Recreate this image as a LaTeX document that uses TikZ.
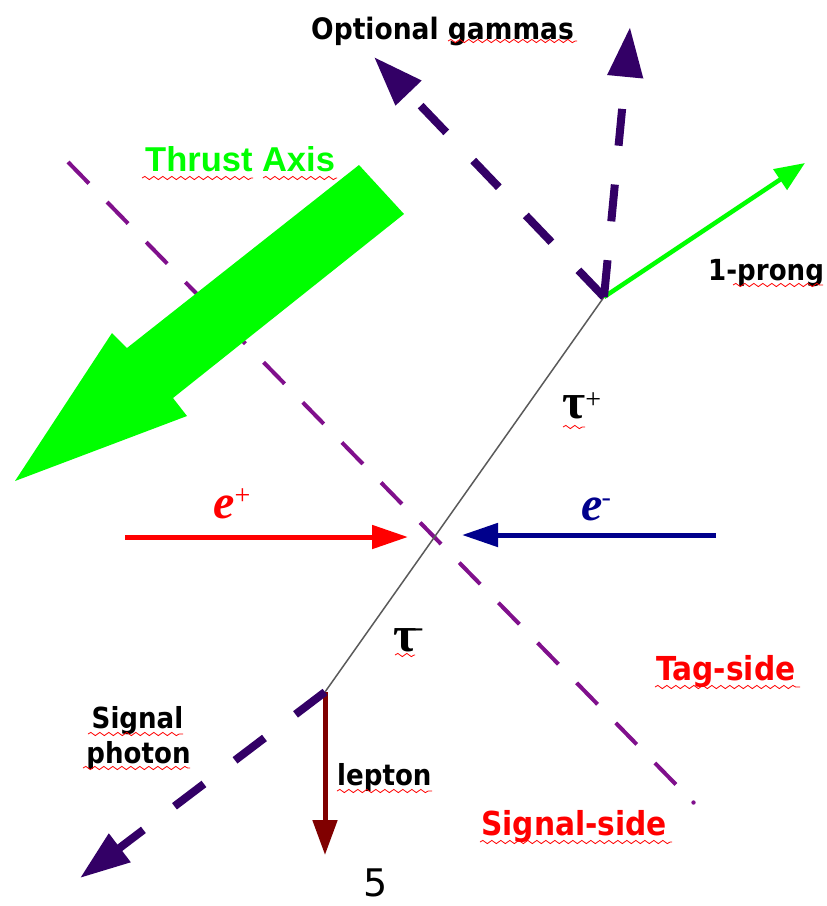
\documentclass[tikz,border=0pt]{standalone}
\usepackage{fontspec}
\setmainfont{DejaVu Sans}
\newfontfamily\lblf{DejaVu Sans}[FakeStretch=0.9]
\newfontfamily\arialf{Liberation Sans}
\newfontfamily\timesf{Liberation Serif}
\usetikzlibrary{arrows.meta,decorations.pathmorphing}
\definecolor{gam}{RGB}{51,0,102}
\definecolor{thr}{RGB}{128,16,140}
\definecolor{grn}{RGB}{0,255,0}
\definecolor{navyb}{RGB}{0,0,140}
\definecolor{maroonb}{RGB}{128,0,0}
\definecolor{taugray}{RGB}{90,90,90}
\tikzset{
  lbl/.style={font=\lblf\bfseries\fontsize{29}{34}\selectfont, inner sep=0pt, anchor=base west},
  redlbl/.style={lbl, font=\lblf\bfseries\fontsize{33}{38}\selectfont, text=red},
  greek/.style={inner sep=0pt, anchor=base west, font=\timesf\bfseries\fontsize{50}{54}\selectfont},
  elec/.style={inner sep=0pt, anchor=base west, font=\timesf\bfseries\itshape\fontsize{48}{52}\selectfont},
  wavy/.style={draw=red, line width=0.8pt, decorate, decoration={snake, amplitude=1.6pt, segment length=9pt}},
  gamma/.style={draw=gam, line width=8pt, dash pattern=on 37pt off 39pt, -{Triangle[length=50pt,width=34pt]}},
  beam/.style={line width=5pt, -{Triangle[length=36pt,width=23pt]}},
  thrustline/.style={draw=thr, line width=4pt, dash pattern=on 30pt off 26pt},
}
\newcommand\supsm[2]{\raisebox{#1}{\upshape\mdseries\fontsize{28}{30}\selectfont #2}}
\begin{document}
\begin{tikzpicture}[x=1pt,y=-1pt]
\useasboundingbox (0,0) rectangle (827,906);

% key points
\coordinate (tp) at (604,297);
\coordinate (tm) at (325,692);
\coordinate (g1) at (374,57);
\coordinate (g2) at (630,27);
\coordinate (pr) at (805,163);
\coordinate (sp) at (80,878);
\coordinate (lp) at (325,855);
\coordinate (epS) at (125,537);
\coordinate (epT) at (408,537);
\coordinate (emS) at (716,535);
\coordinate (emT) at (462,535);
\coordinate (th1) at (68,162);
\coordinate (th2) at (693.5,802.5);

% thrust-perpendicular dashed line
\draw[thrustline] (th1) -- (th2);
\fill[thr] (th2) circle (2.2pt);

% big thrust arrow
\fill[grn] (359,165) -- (404,214) -- (173,398) -- (187,416) -- (15,481) -- (112,333) -- (127,348) -- cycle;

% tau line
\draw[taugray, line width=1.5pt] (tm) -- (tp);

% beams
\draw[beam, red] (epS) -- (epT);
\draw[beam, navyb] (emS) -- (emT);

% decay products
\draw[grn, line width=4.5pt, -{Triangle[length=30pt,width=24pt]}] (tp) -- (pr);
\draw[maroonb, line width=5pt, -{Triangle[length=35pt,width=24pt]}] (tm) -- (lp);
\draw[gamma] (tp) -- (g1);
\draw[gamma] (tp) -- (g2);
\draw[gamma] (tm) -- (sp);

% labels
\node[lbl, font=\lblf\bfseries\fontsize{29.5}{34}\selectfont] (ogam) at (311,39) {Optional gammas};
\node[inner sep=0pt, anchor=base west, text=grn, font=\arialf\bfseries\fontsize{34.5}{40}\selectfont] (thrust) at (145,171) {Thrust Axis};
\node[lbl] (prong) at (708,280) {1-prong};
\node[greek] (taup) at (562,418) {τ\supsm{10pt}{+}};
\node[greek] (taum) at (393,651) {τ\kern-2pt\supsm{15pt}{-}};
\node[elec, text=red] (ep) at (213,518) {e\supsm{14pt}{+}};
\node[elec, text=navyb] (em) at (581,520) {e\kern-1pt\supsm{14pt}{-}};
\node[redlbl] (tag) at (656,680) {Tag-side};
\node[redlbl] (sigside) at (481,835) {Signal-side};
\node[lbl, anchor=base] (sig) at (137.5,728) {Signal};
\node[lbl, anchor=base] (pho) at (138.5,763) {photon};
\node[lbl] (lep) at (337,785) {lepton};
\node[inner sep=0pt, anchor=base west, font=\fontsize{38}{42}\selectfont] (pnum) at (363,896) {5};

% spell-check underlines
\draw[wavy] (448,41) -- (577,41);
\draw[wavy] (142,178) -- (253,178);
\draw[wavy] (263,178) -- (337,178);
\draw[wavy] (733,285) -- (823,285);
\draw[wavy] (563,427) -- (585,427);
\draw[wavy] (395,655) -- (415,655);
\draw[wavy] (88,734) -- (183,734);
\draw[wavy] (83,768) -- (190,768);
\draw[wavy] (337,791) -- (432,791);
\draw[wavy] (655,687) -- (800,687);
\draw[wavy] (480,842) -- (672,842);
\end{tikzpicture}
\end{document}
